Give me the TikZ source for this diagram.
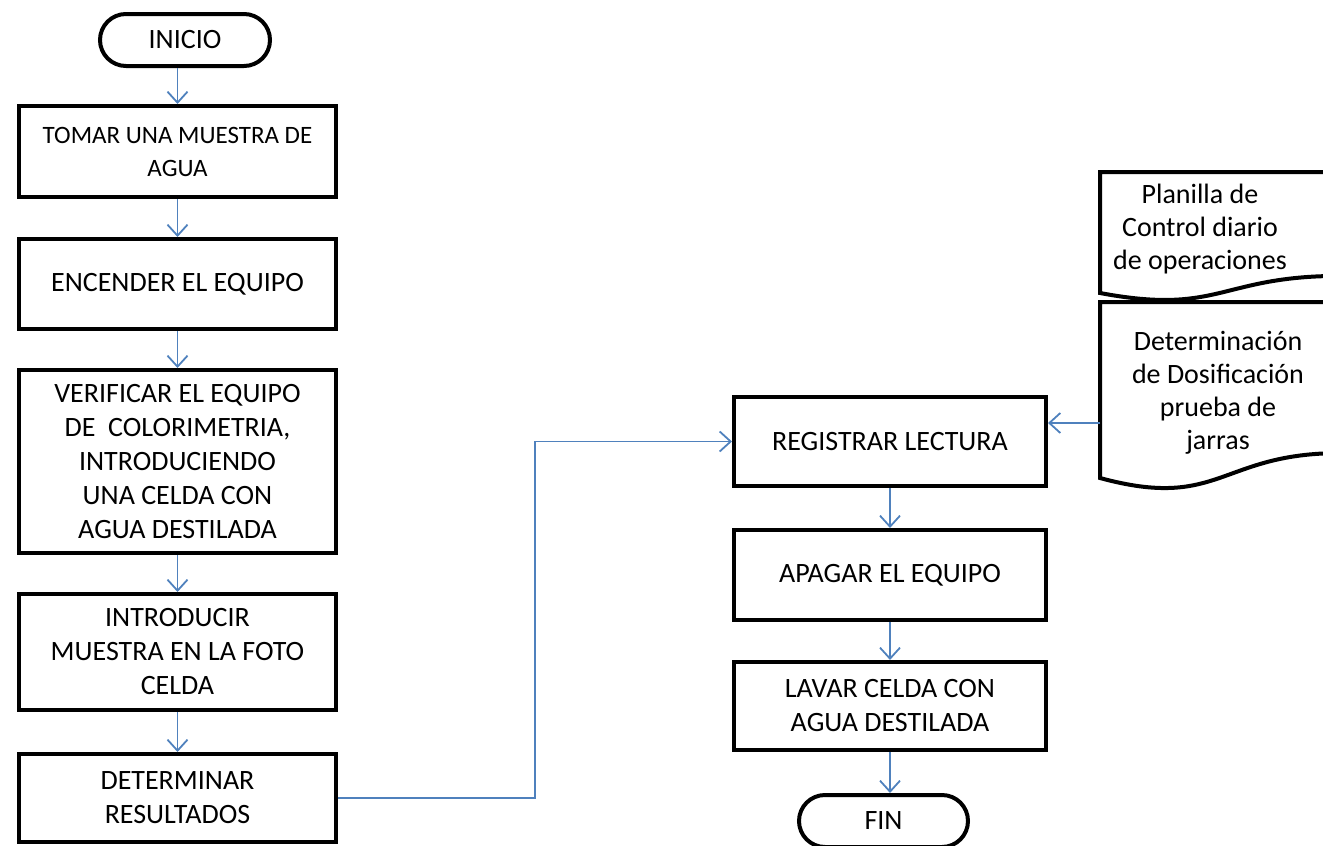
\documentclass[tikz,border=0pt]{standalone}
\usepackage{fontspec}
\setmainfont{Carlito}
\usetikzlibrary{arrows.meta,positioning}
\definecolor{flowblue}{HTML}{4F81BD}
\tikzset{
  block/.style={draw,rectangle,line width=4pt,inner sep=0pt,align=center,minimum width=317pt,font=\fontsize{28}{34}\selectfont},
  term/.style={draw,rectangle,rounded corners=26pt,line width=4pt,minimum width=170pt,minimum height=52pt,inner sep=0pt,font=\fontsize{28}{34}\selectfont},
  doctext/.style={align=center,inner sep=0pt,font=\fontsize{28}{33}\selectfont},
  docline/.style={draw,line width=4pt},
  flow/.style={draw=flowblue,line width=1.8pt,-{Straight Barb[length=11pt,width=20pt,line width=1.8pt]}}
}
\begin{document}
\begin{tikzpicture}[x=1pt,y=-1pt]
  \useasboundingbox (0,0) rectangle (1323,846);
  \clip (0,0) rectangle (1323,846);

  % left column
  \node[term] (ini) at (185,40) {INICIO};
  \node[block,minimum height=91pt,font=\fontsize{25}{33}\selectfont] (b1) at (177.5,151.5) {TOMAR UNA MUESTRA DE\\AGUA};
  \node[block,minimum height=90pt] (b2) at (177.5,284) {ENCENDER EL EQUIPO};
  \node[block,minimum height=183pt] (b3) at (177.5,461.5) {VERIFICAR EL EQUIPO\\DE~ COLORIMETRIA,\\INTRODUCIENDO\\UNA CELDA CON\\AGUA DESTILADA};
  \node[block,minimum height=116pt] (b4) at (177.5,652) {INTRODUCIR\\MUESTRA EN LA FOTO\\CELDA};
  \node[block,minimum height=88pt] (b5) at (177.5,798) {DETERMINAR\\RESULTADOS};

  % right column
  \node[block,minimum width=312pt,minimum height=89pt] (reg) at (890,441.5) {REGISTRAR LECTURA};
  \node[block,minimum width=312pt,minimum height=90pt] (apa) at (890,575) {APAGAR EL EQUIPO};
  \node[block,minimum width=312pt,minimum height=88pt] (lav) at (890,706) {LAVAR CELDA CON\\AGUA DESTILADA};
  \node[term,minimum width=169pt] (fin) at (883.5,821) {FIN};

  % documents
  \draw[docline] (1100,172) -- (1340,172) -- (1340,275.9)
    .. controls (1220,275.9) and (1220,315.6) .. (1100,293) -- cycle;
  \draw[docline] (1100,302) -- (1340,302) -- (1340,453.1)
    .. controls (1220,453.1) and (1220,510.7) .. (1100,478) -- cycle;
  \node[doctext] (d1) at (1200,229) {Planilla de\\Control diario\\de operaciones};
  \node[doctext] (d2) at (1218,393) {Determinación\\de Dosificación\\prueba de\\jarras};
  \coordinate (d2in) at (1100,423);

  % connectors
  \draw[flow] (ini.south -| b1.north) -- (b1.north);
  \draw[flow] (b1) -- (b2);
  \draw[flow] (b2) -- (b3);
  \draw[flow] (b3) -- (b4);
  \draw[flow] (b4) -- (b5);
  \draw[flow] (b5.east) -- ++(197,0) |- (reg.west);
  \draw[flow] (d2in) -- (d2in -| reg.east);
  \draw[flow] (reg) -- (apa);
  \draw[flow] (apa) -- (lav);
  \draw[flow] (lav.south) -- (lav.south |- fin.north);
\end{tikzpicture}
\end{document}
